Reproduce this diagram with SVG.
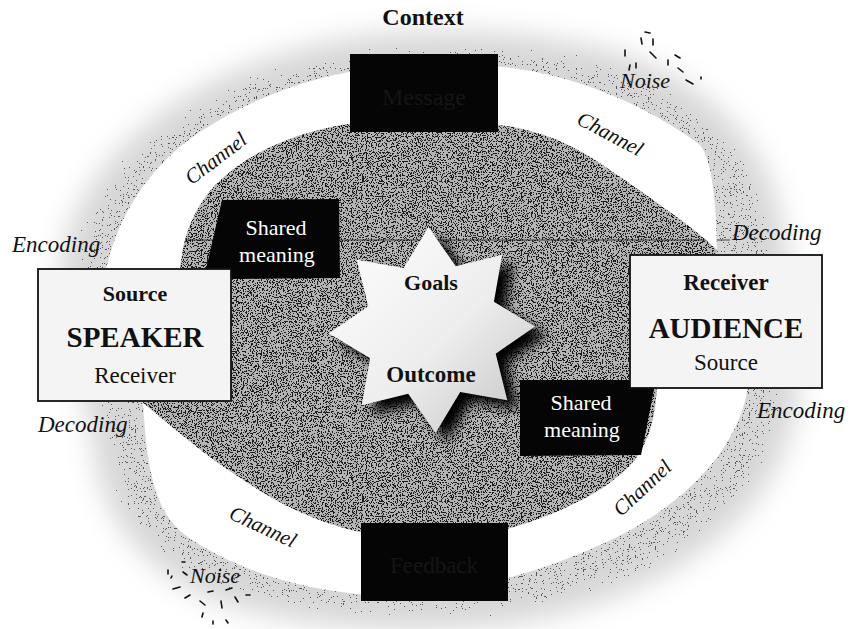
<svg xmlns="http://www.w3.org/2000/svg" width="853" height="629" viewBox="0 0 853 629">
<style>
.t{font-family:"Liberation Serif","Times New Roman",serif;fill:#111}
.b{font-weight:bold}
.i{font-style:italic}
.w{fill:#fff}
.dk{fill:#151515}
.band{fill:#fff}
.box{fill:#f4f4f4;stroke:#111;stroke-width:1.8}
.bub{fill:#050505}
.nz{stroke:#111;stroke-width:1.6;stroke-linecap:round}
</style>
<defs>
<filter id="haloF" x="-15%" y="-15%" width="130%" height="130%" color-interpolation-filters="sRGB">
  <feGaussianBlur in="SourceAlpha" stdDeviation="14" result="ba"/>
  <feTurbulence type="fractalNoise" baseFrequency="0.85" numOctaves="2" seed="4" result="n"/>
  <feColorMatrix in="n" type="matrix" values="0 0 0 0 0  0 0 0 0 0  0 0 0 0 0  1 0 0 0 0" result="na"/>
  <feComposite in="ba" in2="na" operator="arithmetic" k1="0" k2="0.75" k3="-1" k4="0.07" result="diff"/>
  <feComponentTransfer in="diff" result="dots"><feFuncA type="discrete" tableValues="0 0.7"/></feComponentTransfer>
  <feFlood flood-color="#d6d6d6" result="fl"/>
  <feComposite in="fl" in2="ba" operator="in" result="tint"/>
  <feMerge><feMergeNode in="tint"/><feMergeNode in="dots"/></feMerge>
</filter>
<filter id="innerF" x="-5%" y="-5%" width="110%" height="110%" color-interpolation-filters="sRGB">
  <feTurbulence type="fractalNoise" baseFrequency="0.8" numOctaves="2" seed="9" result="n"/>
  <feColorMatrix in="n" type="matrix" values="0 0 0 0 0  0 0 0 0 0  0 0 0 0 0  1.4 0 0 0 -0.284" result="na"/>
  <feComponentTransfer in="na" result="dots0"><feFuncA type="discrete" tableValues="0 0.85"/></feComponentTransfer>
  <feComposite in="dots0" in2="SourceAlpha" operator="in" result="dots"/>
  <feMerge><feMergeNode in="SourceGraphic"/><feMergeNode in="dots"/></feMerge>
</filter>
<filter id="shadowF" x="-20%" y="-20%" width="140%" height="140%">
  <feGaussianBlur stdDeviation="6"/>
</filter>
<linearGradient id="starG" x1="0" y1="0" x2="1" y2="1">
  <stop offset="0" stop-color="#ffffff"/>
  <stop offset="0.55" stop-color="#ededed"/>
  <stop offset="1" stop-color="#c2c2c2"/>
</linearGradient>
<marker id="ah" viewBox="0 0 10 10" refX="4" refY="5" markerWidth="3.4" markerHeight="3.4" orient="auto">
  <path d="M0,0 L10,5 L0,10 z" fill="#111"/>
</marker>
</defs>

<rect width="853" height="629" fill="#fff"/>

<g id="context-field">
  <path filter="url(#haloF)" fill="#000" d="M 62,265 C 72,170 170,75 330,42 C 400,28 500,28 580,44 C 690,66 768,130 783,230 C 798,300 808,380 788,440 C 758,528 660,598 520,622 C 430,636 320,630 240,608 C 152,584 98,520 93,440 C 88,400 58,330 62,265 Z"/>
  <path filter="url(#innerF)" fill="#b4b4b4" d="M 180,268 C 182,240 192,210 215,185 C 250,150 300,130 360,122 L 490,124 C 530,127 565,140 600,163 C 650,197 700,232 717,250 L 700,300 L 657,385 C 656,415 650,440 635,460 C 610,490 560,515 500,531 L 368,534 C 320,525 280,505 240,478 C 200,452 170,425 143,403 L 160,330 Z"/>
  <line x1="177" y1="240" x2="730" y2="240" stroke="#1a1a1a" stroke-width="1.2" opacity="0.8"/>
</g>

<g id="connectors">
  <path class="band" d="M 106,270 C 118,215 150,165 200,132 C 245,102 300,80 360,70 L 360,122 C 300,130 250,150 215,185 C 192,210 182,240 180,270 Z"/>
  <path class="band" d="M 490,66 C 560,70 640,100 700,145 C 712,160 716,200 717,250 C 700,232 650,197 600,163 C 565,140 530,127 490,124 Z"/>
  <path class="band" d="M 748,385 C 740,450 680,510 600,545 C 570,558 540,570 500,580 L 500,531 C 560,515 610,490 635,460 C 650,440 656,415 657,385 Z"/>
  <path class="band" d="M 370,595 C 300,590 235,570 185,535 C 155,512 147,470 143,403 C 170,425 200,452 240,478 C 280,505 320,525 370,534 Z"/>
  <path d="M 390,356 Q 377,326 396,306" fill="none" stroke="#111" stroke-width="3.6" marker-end="url(#ah)"/>
  <path d="M 469,296 Q 483,325 466,349" fill="none" stroke="#111" stroke-width="3.6" marker-end="url(#ah)"/>
</g>

<g id="goals-outcome">
  <polygon transform="translate(11,9)" filter="url(#shadowF)" fill="#000" points="428.4,227.1 455.8,266.3 502.2,254.7 493.9,301.8 535,326.4 495.7,353.8 507.3,400.2 460.2,391.9 435.6,432.9 408.2,393.7 361.8,405.3 370.1,358.2 329,333.6 368.3,306.2 356.7,259.8 403.8,268.1"/>
  <polygon fill="url(#starG)" points="428.4,227.1 455.8,266.3 502.2,254.7 493.9,301.8 535,326.4 495.7,353.8 507.3,400.2 460.2,391.9 435.6,432.9 408.2,393.7 361.8,405.3 370.1,358.2 329,333.6 368.3,306.2 356.7,259.8 403.8,268.1"/>
  <text class="t b" x="431" y="290" font-size="22" text-anchor="middle">Goals</text>
  <text class="t b" x="431" y="382" font-size="23" text-anchor="middle">Outcome</text>
</g>

<g id="message">
  <rect x="350" y="54" width="148" height="78" class="bub"/>
  <text class="t dk" x="424" y="105" font-size="24" text-anchor="middle">Message</text>
</g>

<g id="feedback">
  <rect x="361" y="523" width="147" height="78" class="bub"/>
  <text class="t dk" x="434" y="573" font-size="23" text-anchor="middle">Feedback</text>
</g>

<g id="shared-meaning-speaker">
  <polygon class="bub" points="222,200 339,199 340,278 229,279 196,312"/>
  <text class="t w" x="276" y="235" font-size="22" text-anchor="middle">Shared</text>
  <text class="t w" x="277" y="262" font-size="22" text-anchor="middle">meaning</text>
</g>

<g id="shared-meaning-audience">
  <polygon class="bub" points="520,380 643,380 663,344 641,455 520,456"/>
  <text class="t w" x="581" y="410" font-size="22" text-anchor="middle">Shared</text>
  <text class="t w" x="582" y="437" font-size="22" text-anchor="middle">meaning</text>
</g>

<g id="speaker">
  <rect class="box" x="38" y="269" width="193" height="132"/>
  <text class="t b" x="135" y="301" font-size="22" text-anchor="middle">Source</text>
  <text class="t b" x="135" y="347" font-size="29" text-anchor="middle">SPEAKER</text>
  <text class="t" x="135" y="383" font-size="23" text-anchor="middle">Receiver</text>
</g>

<g id="audience">
  <rect class="box" x="630" y="255" width="192" height="133"/>
  <text class="t b" x="726" y="290" font-size="23" text-anchor="middle">Receiver</text>
  <text class="t b" x="726" y="338" font-size="29" text-anchor="middle">AUDIENCE</text>
  <text class="t" x="726" y="370" font-size="23" text-anchor="middle">Source</text>
</g>

<g id="labels">
  <text class="t b" x="423" y="25" font-size="24" text-anchor="middle">Context</text>
  <text class="t i" x="12" y="252" font-size="23">Encoding</text>
  <text class="t i" x="38" y="432" font-size="23">Decoding</text>
  <text class="t i" x="732" y="240" font-size="23">Decoding</text>
  <text class="t i" x="757" y="418" font-size="23">Encoding</text>
  <text class="t i" x="620" y="88" font-size="22">Noise</text>
  <text class="t i" x="190" y="583" font-size="22">Noise</text>
  <text class="t i" font-size="21" text-anchor="middle" transform="translate(220,164) rotate(-37)">Channel</text>
  <text class="t i" font-size="21" text-anchor="middle" transform="translate(607,140) rotate(28)">Channel</text>
  <text class="t i" font-size="21" text-anchor="middle" transform="translate(260,533) rotate(25)">Channel</text>
  <text class="t i" font-size="21" text-anchor="middle" transform="translate(647,493) rotate(-43)">Channel</text>
</g>

<g id="noise-marks">
  <path class="nz" d="M645,32 l5,1 M641,38 l1,6 M653,39 l0,6 M650,52 l6,6 M625,50 l0,6 M668,60 l0,5 M675,55 l5,3 M678,68 l5,4 M686,80 l7,4 M701,77 l0,2 M636,63 l0,5 M630,65 l-1,5"/>
  <path class="nz" d="M168,570 l0,4 M182,562 l3,0 M183,572 l4,3 M173,589 l7,-2 M185,598 l5,-3 M200,601 l5,4 M208,592 l5,-1 M221,601 l1,7 M226,590 l6,-2 M235,597 l3,5 M203,613 l-1,4 M213,621 l0,3 M226,620 l2,3 M246,595 l4,0 M172,576 l-1,2"/>
</g>
</svg>
